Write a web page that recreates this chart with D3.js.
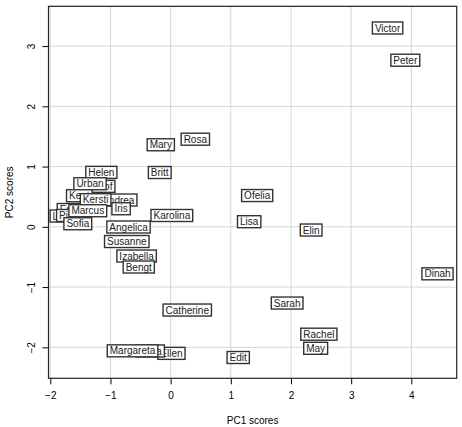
<!DOCTYPE html>
<html>
<head>
<meta charset="utf-8">
<script src="https://cdn.jsdelivr.net/npm/d3@7"></script>
<style>
    body { margin: 0; background: #fff; }
    text { font-family: "Liberation Sans", Arial, Helvetica, sans-serif; }
</style>
</head>
<body>
<svg id="chart" width="462" height="427"></svg>
<script>
// names in drawing order (later ones sit on top)
var names = ["Victor", "Peter", "Rosa", "Mary", "Britt", "Helen", "Olof", "Urban",
    "Kent", "Andrea", "Kersti", "Iris", "Erik", "Lars", "Pia", "Marcus", "Sofia",
    "Karolina", "Angelica", "Susanne", "Izabella", "Bengt", "Catherine", "Ellen",
    "Anna", "Margareta", "Edit", "Ofelia", "Lisa", "Elin", "Sarah", "Rachel", "May", "Dinah"];

var pc1 = [3.605, 3.90, 0.41, -0.164, -0.181, -1.152, -1.12, -1.34,
    -1.518, -0.87, -1.247, -0.824, -1.70, -1.80, -1.734, -1.377, -1.543,
    0.02, -0.70, -0.729, -0.566, -0.53, 0.276, 0.013,
    -0.34, -0.633, 1.123, 1.438, 1.305, 2.335, 1.936, 2.463, 2.41, 4.435];

var pc2 = [3.30, 2.765, 1.454, 1.362, 0.901, 0.904, 0.672, 0.715,
    0.516, 0.445, 0.45, 0.30, 0.287, 0.179, 0.188, 0.267, 0.051,
    0.188, -0.003, -0.244, -0.485, -0.667, -1.381, -2.10,
    -2.06, -2.058, -2.169, 0.519, 0.085, -0.053, -1.265, -1.782, -2.016, -0.78];

var xTicks = [-2, -1, 0, 1, 2, 3, 4];
var yTicks = [-2, -1, 0, 1, 2, 3];

var svg = d3.select("#chart");

var plotL = 48.5, plotR = 456.7, plotT = 6.3, plotB = 378.3;

var x = d3.scaleLinear().domain([-2.03, 4.754]).range([plotL, plotR]);
var y = d3.scaleLinear().domain([-2.514, 3.66]).range([plotB, plotT]);

var minusFmt = d => d < 0 ? "\u2212" + Math.abs(d) : d;

// grid
var grid = svg.append("g");
grid.selectAll(".gx").data(xTicks).enter().append("line")
    .attr("x1", d => x(d)).attr("x2", d => x(d))
    .attr("y1", plotT).attr("y2", plotB)
    .attr("stroke", "#d6d6d6").attr("stroke-width", 1);
grid.selectAll(".gy").data(yTicks).enter().append("line")
    .attr("y1", d => y(d)).attr("y2", d => y(d))
    .attr("x1", plotL).attr("x2", plotR)
    .attr("stroke", "#d6d6d6").attr("stroke-width", 1);

// axes
var xAxis = svg.append("g").attr("transform", "translate(0," + plotB + ")")
    .call(d3.axisBottom(x).tickValues(xTicks).tickSize(6).tickPadding(8).tickFormat(minusFmt));
xAxis.select(".domain").remove();
xAxis.selectAll("text").attr("font-size", 10).attr("fill", "#000");

var yAxis = svg.append("g").attr("transform", "translate(" + plotL + ",0)")
    .call(d3.axisLeft(y).tickValues(yTicks).tickSize(6).tickFormat(minusFmt));
yAxis.select(".domain").remove();
yAxis.selectAll("text")
    .attr("font-size", 10).attr("fill", "#000")
    .attr("x", 0).attr("dy", 0)
    .attr("text-anchor", "middle")
    .attr("transform", "translate(-14,0) rotate(-90)");

// labels with boxes
var pts = names.map((n, i) => ({ name: n, x: pc1[i], y: pc2[i] }));

var lab = svg.append("g").selectAll("g").data(pts).enter().append("g")
    .attr("transform", d => "translate(" + x(d.x) + "," + y(d.y) + ")");

lab.append("rect");
lab.append("text")
    .attr("text-anchor", "middle")
    .attr("dy", "0.36em")
    .attr("font-size", 10)
    .attr("fill", "#222")
    .text(d => d.name);

lab.each(function () {
    var g = d3.select(this);
    var w = g.select("text").node().getComputedTextLength() + 5;
    g.select("rect")
        .attr("x", -w / 2).attr("y", -6)
        .attr("width", w).attr("height", 12)
        .attr("fill", "#fff").attr("stroke", "#333").attr("stroke-width", 1.4);
});

// frame
svg.append("rect")
    .attr("x", plotL).attr("y", plotT)
    .attr("width", plotR - plotL).attr("height", plotB - plotT)
    .attr("fill", "none").attr("stroke", "#222").attr("stroke-width", 1.2);

// axis titles
svg.append("text").attr("x", (plotL + plotR) / 2).attr("y", 424)
    .attr("text-anchor", "middle").attr("font-size", 10).text("PC1 scores");
svg.append("text")
    .attr("transform", "translate(13," + ((plotT + plotB) / 2) + ") rotate(-90)")
    .attr("text-anchor", "middle").attr("font-size", 10).text("PC2 scores");
</script>
</body>
</html>
